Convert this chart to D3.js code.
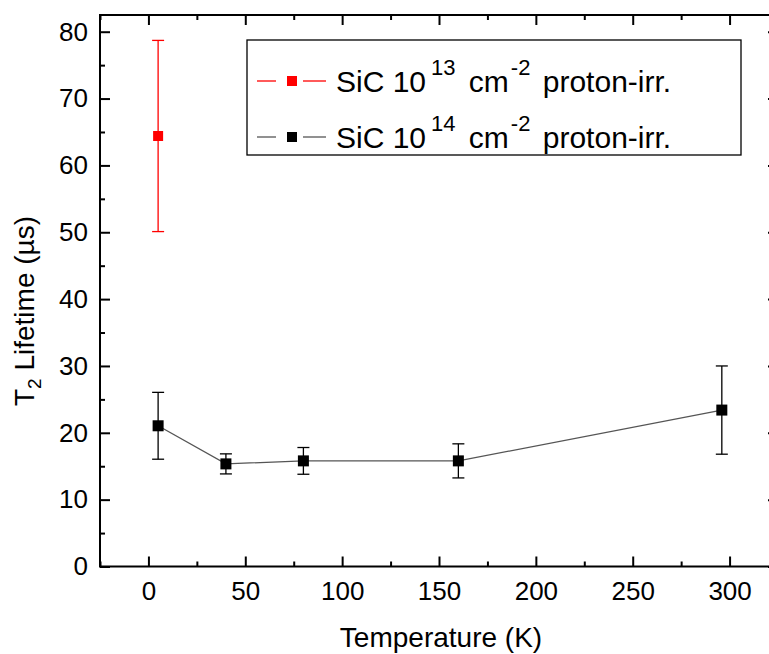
<!DOCTYPE html>
<html>
<head>
<meta charset="utf-8">
<script src="https://cdn.jsdelivr.net/npm/d3@7"></script>
<style>
  body { margin: 0; background: #fff; }
  svg { display: block; font-family: "Liberation Sans", Arial, sans-serif; }
</style>
</head>
<body>
<svg id="chart"></svg>
<script>
// data
const temps13 = [5];
const life13 = [64.4];
const err13 = [14.3];

const temps14 = [5, 40, 80, 160, 296];
const life14 = [21.05, 15.35, 15.8, 15.8, 23.4];
const err14 = [5.0, 1.5, 2.0, 2.55, 6.6];

const xTicks = [0, 50, 100, 150, 200, 250, 300];
const yTicks = [0, 10, 20, 30, 40, 50, 60, 70, 80];

const seriesNames = ["SiC 10|13| cm|-2| proton-irr.", "SiC 10|14| cm|-2| proton-irr."];

let width = 769;
let height = 654;

let padding = {
    left: 100,
    right: 778,
    top: 15,
    bottom: 566.5
};

let svg = d3.select('#chart')
    .attr('width', width)
    .attr('height', height);

let xScale = d3.scaleLinear()
    .domain([-25, 325])
    .range([padding.left, padding.right]);
let yScale = d3.scaleLinear()
    .domain([0, 82.5])
    .range([padding.bottom, padding.top]);

const xMinor = d3.range(-25, 326, 25).filter(v => v % 50 !== 0);
const yMinor = d3.range(5, 82.5, 10);

function styleAxis(g) {
    g.select('.domain').remove();
    g.selectAll('line').attr('stroke', '#000').attr('stroke-width', 2);
    g.selectAll('text').attr('fill', '#000').attr('font-size', 26)
      .attr('font-family', '"Liberation Sans", Arial, sans-serif');
}

// bottom axis (ticks inward)
svg.append('g')
    .attr('transform', `translate(0,${padding.bottom})`)
    .call(d3.axisBottom(xScale).tickValues(xTicks).tickSizeInner(-10).tickSizeOuter(0).tickPadding(15))
    .call(styleAxis);
svg.append('g')
    .attr('transform', `translate(0,${padding.bottom})`)
    .call(d3.axisBottom(xScale).tickValues(xMinor).tickSizeInner(-5).tickSizeOuter(0).tickFormat(''))
    .call(styleAxis);
// top axis
svg.append('g')
    .attr('transform', `translate(0,${padding.top})`)
    .call(d3.axisTop(xScale).tickValues(xTicks).tickSizeInner(-10).tickSizeOuter(0).tickFormat(''))
    .call(styleAxis);
svg.append('g')
    .attr('transform', `translate(0,${padding.top})`)
    .call(d3.axisTop(xScale).tickValues(xMinor).tickSizeInner(-5).tickSizeOuter(0).tickFormat(''))
    .call(styleAxis);
// left axis
svg.append('g')
    .attr('transform', `translate(${padding.left},0)`)
    .call(d3.axisLeft(yScale).tickValues(yTicks).tickSizeInner(-10).tickSizeOuter(0).tickPadding(12))
    .call(styleAxis);
svg.append('g')
    .attr('transform', `translate(${padding.left},0)`)
    .call(d3.axisLeft(yScale).tickValues(yMinor).tickSizeInner(-5).tickSizeOuter(0).tickFormat(''))
    .call(styleAxis);
// right axis
svg.append('g')
    .attr('transform', `translate(${padding.right},0)`)
    .call(d3.axisRight(yScale).tickValues(yTicks).tickSizeInner(-10).tickSizeOuter(0).tickFormat(''))
    .call(styleAxis);
svg.append('g')
    .attr('transform', `translate(${padding.right},0)`)
    .call(d3.axisRight(yScale).tickValues(yMinor).tickSizeInner(-5).tickSizeOuter(0).tickFormat(''))
    .call(styleAxis);

// frame
svg.append('rect')
    .attr('x', padding.left)
    .attr('y', padding.top)
    .attr('width', padding.right - padding.left)
    .attr('height', padding.bottom - padding.top)
    .attr('fill', 'none')
    .attr('stroke', '#000')
    .attr('stroke-width', 2);

// axis titles
svg.append('text')
    .text('Temperature (K)')
    .attr('x', 441)
    .attr('y', 647)
    .attr('text-anchor', 'middle')
    .attr('font-size', 28);

let ylabel = svg.append('text')
    .attr('transform', 'translate(34,311) rotate(-90)')
    .attr('text-anchor', 'middle')
    .attr('font-size', 28);
ylabel.append('tspan').text('T');
ylabel.append('tspan').text('2').attr('font-size', 19).attr('dy', 7);
ylabel.append('tspan').text(' Lifetime (\u00b5s)').attr('dy', -7);

// series
function drawSeries(xs, ys, es, color, lineColor, size) {
    const pts = xs.map((x, i) => [x, ys[i], es[i]]);
    if (pts.length > 1) {
        svg.append('path')
            .datum(pts)
            .attr('d', d3.line().x(d => xScale(d[0])).y(d => yScale(d[1])))
            .attr('fill', 'none')
            .attr('stroke', lineColor)
            .attr('stroke-width', 1.3);
    }
    const g = svg.append('g');
    pts.forEach(d => {
        const cx = xScale(d[0]);
        g.append('line')
            .attr('x1', cx).attr('x2', cx)
            .attr('y1', yScale(d[1] - d[2])).attr('y2', yScale(d[1] + d[2]))
            .attr('stroke', color).attr('stroke-width', 1.3);
        [d[1] - d[2], d[1] + d[2]].forEach(v => {
            g.append('line')
                .attr('x1', cx - 6).attr('x2', cx + 6)
                .attr('y1', yScale(v)).attr('y2', yScale(v))
                .attr('stroke', color).attr('stroke-width', 1.3);
        });
        g.append('rect')
            .attr('x', cx - size / 2).attr('y', yScale(d[1]) - size / 2)
            .attr('width', size).attr('height', size)
            .attr('fill', color);
    });
}

drawSeries(temps14, life14, err14, '#000', '#555', 11);
drawSeries(temps13, life13, err13, '#ff0000', '#ff0000', 10);

// legend
let legend = svg.append('g');
legend.append('rect')
    .attr('x', 247).attr('y', 40)
    .attr('width', 494).attr('height', 115)
    .attr('fill', '#fff')
    .attr('stroke', '#000')
    .attr('stroke-width', 1.3);

const legendColors = ['#ff0000', '#000'];
const legendLines = ['#ff0000', '#555'];
const legendY = [81, 137];
const supGap = [5, 2];
const afterGap = [5, 4];

seriesNames.forEach((name, i) => {
    const y = legendY[i];
    legend.append('line').attr('x1', 257).attr('x2', 276).attr('y1', y).attr('y2', y)
        .attr('stroke', legendLines[i]).attr('stroke-width', 1.3);
    legend.append('line').attr('x1', 303).attr('x2', 326).attr('y1', y).attr('y2', y)
        .attr('stroke', legendLines[i]).attr('stroke-width', 1.3);
    legend.append('rect').attr('x', 287).attr('y', y - 5).attr('width', 10).attr('height', 10)
        .attr('fill', legendColors[i]);
    const parts = name.split('|');
    const t = legend.append('text').attr('x', 336).attr('y', y + 11).attr('font-size', 30);
    let k = 0;
    parts.forEach((p, j) => {
        const ts = t.append('tspan').text(p);
        if (j % 2 === 1) {
            ts.attr('font-size', 22).attr('dy', -17).attr('dx', supGap[k]);
        } else if (j > 0) {
            ts.attr('dy', 17).attr('dx', afterGap[k]);
            k++;
        }
    });
});
</script>
</body>
</html>
